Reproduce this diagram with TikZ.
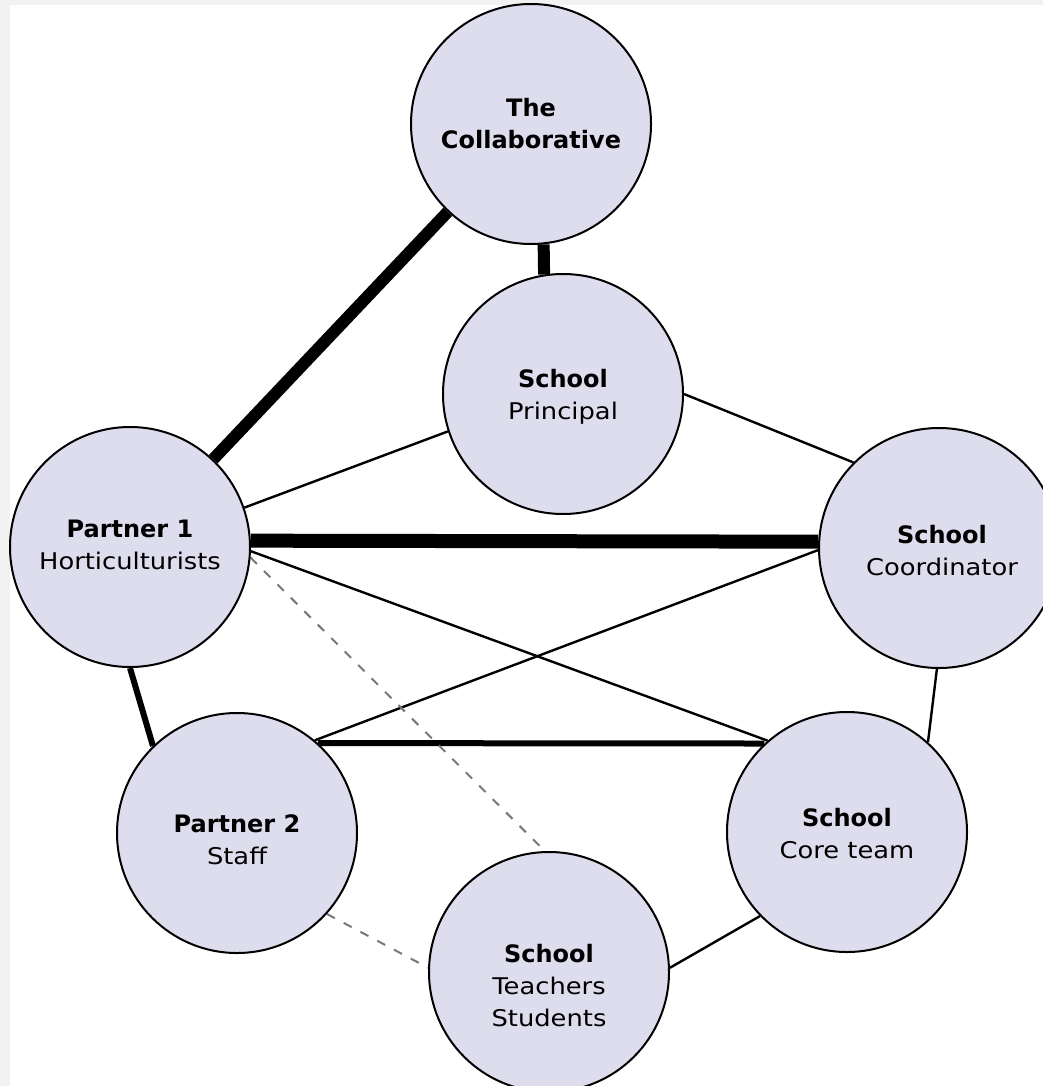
\documentclass[tikz,border=0pt]{standalone}
\usepackage{fontspec}
\setmainfont{DejaVu Sans}
\newfontfamily\regf{DejaVu Sans}[FakeStretch=1.12]
\usetikzlibrary{backgrounds}
\definecolor{bggray}{RGB}{242,242,242}
\definecolor{circfill}{RGB}{221,221,237}
\definecolor{dashgray}{RGB}{120,120,120}
\newcommand\regtext{\regf\mdseries\fontsize{11.5pt}{16pt}\selectfont}
\begin{document}
\begin{tikzpicture}[x=0.5pt, y=-0.5pt,
  circ/.style={circle, draw=black, line width=1pt, fill=circfill, minimum size=120pt, inner sep=0pt},
  txt/.style={align=center, inner sep=0pt, font=\fontsize{12pt}{16pt}\selectfont},
  vthick/.style={line width=6pt},
  bar/.style={line width=7pt},
  med/.style={line width=3pt},
  thinedge/.style={line width=1.2pt},
  dsh/.style={draw=dashgray, line width=1pt, dash pattern=on 4.5pt off 5pt}]
\useasboundingbox (0,0) rectangle (1043,1086);
% circles
\node[circ] (collab) at (531,124) {};
\node[circ] (princ) at (563,394) {};
\node[circ] (p1) at (130,547) {};
\node[circ] (coord) at (939,548) {};
\node[circ] (p2) at (237,833) {};
\node[circ] (core) at (847,832) {};
\node[circ] (teach) at (549,972) {};
% texts
\node[txt] (collabtxt) at (collab) {{\bfseries The}\\{\bfseries Collaborative}};
\node[txt] (princtxt) at ([yshift=-1.5pt]princ.center) {{\bfseries School}\\{\regtext Principal}};
\node[txt] (p1txt) at ([yshift=1pt]p1.center) {{\bfseries Partner 1}\\{\regtext Horticulturists}};
\node[txt] (coordtxt) at ([xshift=1.5pt,yshift=-1.5pt]coord.center) {{\bfseries School}\\{\regtext Coordinator}};
\node[txt] (p2txt) at ([yshift=-3.5pt]p2.center) {{\bfseries Partner 2}\\{\regtext Staff}};
\node[txt] (coretxt) at ([yshift=-1pt]core.center) {{\bfseries School}\\{\regtext Core team}};
\node[txt] (teachtxt) at ([yshift=-7pt]teach.center) {{\bfseries School}\\{\regtext Teachers}\\{\regtext Students}};
\begin{pgfonlayer}{background}
\fill[bggray] (0,0) rectangle (1043,1086);
\fill[white] (10,5) rectangle (1043,1086);
% connectors
\draw[vthick] (p1) -- (collab);
\draw[vthick] (collab.276) -- (princ.99);
\draw[thinedge] (p1.19) -- (princ.198);
\draw[thinedge] (princ.0) -- (coord.135);
\draw[bar] (p1.3) -- (coord.177);
\draw[thinedge] (p1.-2) -- (core.131);
\draw[thinedge] (p2.50) -- (coord.181);
\draw[med] (p2.48) -- (core.133);
\draw[med] (p1.270) -- (p2.134);
\draw[thinedge] (coord.269) -- (core.48);
\draw[thinedge] (core.224) -- (teach.2);
\draw[dsh] (p2.-42) -- (teach.178);
\draw[dsh] (p1.-5) -- (teach.92);
\end{pgfonlayer}
\end{tikzpicture}
\end{document}
